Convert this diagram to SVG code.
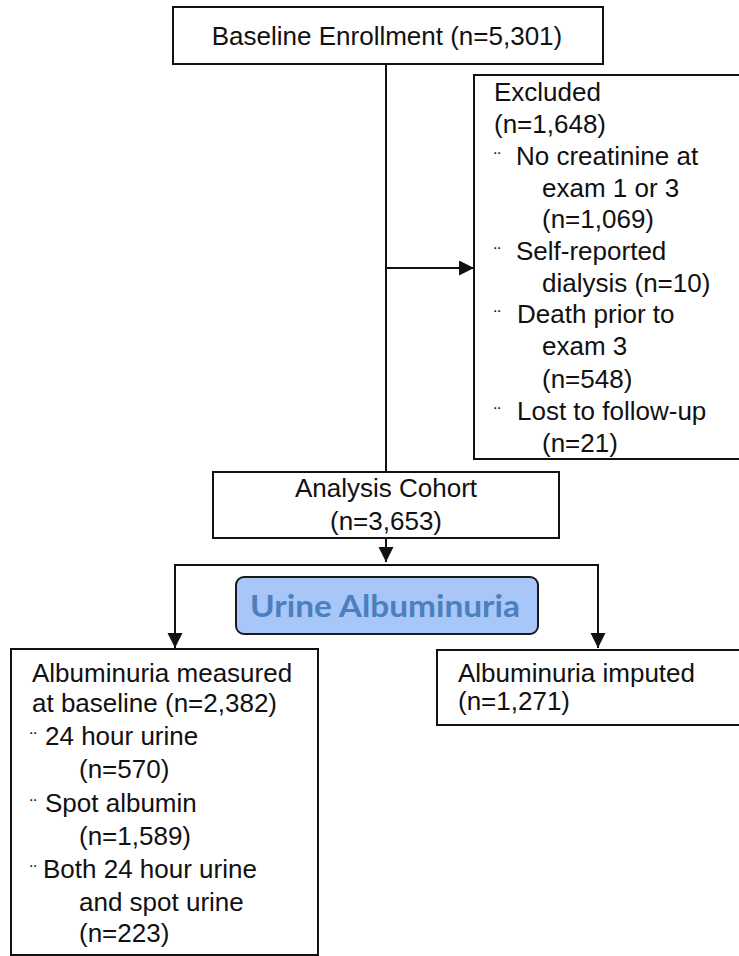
<svg xmlns="http://www.w3.org/2000/svg" width="739" height="956" viewBox="0 0 739 956">
<style>
.box{fill:#fff;stroke:#111;stroke-width:2}
.t{font-family:"Liberation Sans",Arial,sans-serif;font-size:26px;fill:#111}
.c{text-anchor:middle}
.b{font-family:"Liberation Sans",Arial,sans-serif;font-size:20px;fill:#111}
.ln{stroke:#111;stroke-width:2;fill:none}
</style>
<defs>
<marker id="ah" markerWidth="16" markerHeight="16" refX="15" refY="7.5" orient="auto" markerUnits="userSpaceOnUse">
<path d="M0,0 L15,7.5 L0,15 Z" fill="#111"/>
</marker>
</defs>
<rect width="739" height="956" fill="#fff"/>
<g id="connectors">
<line class="ln" x1="386" y1="64" x2="386" y2="562" marker-end="url(#ah)"/>
<line class="ln" x1="386" y1="268" x2="474" y2="268" marker-end="url(#ah)"/>
<polyline class="ln" points="175,647 175,565 598,565 598,647"/>
<line class="ln" x1="175" y1="600" x2="175" y2="648" marker-end="url(#ah)"/>
<line class="ln" x1="598" y1="600" x2="598" y2="648" marker-end="url(#ah)"/>
</g>
<g id="baseline">
<rect class="box" x="173" y="7" width="430" height="57"/>
<text class="t c" x="387" y="45">Baseline Enrollment (n=5,301)</text>
</g>
<g id="excluded">
<rect class="box" x="474" y="75" width="270" height="384"/>
<text class="t" x="494" y="101">Excluded</text>
<text class="t" x="494" y="133">(n=1,648)</text>
<text class="b" x="494" y="166">¨</text>
<text class="t" x="516" y="165">No creatinine at</text>
<text class="t" x="542" y="197">exam 1 or 3</text>
<text class="t" x="542" y="228">(n=1,069)</text>
<text class="b" x="494" y="261">¨</text>
<text class="t" x="516" y="260">Self-reported</text>
<text class="t" x="542" y="292">dialysis (n=10)</text>
<text class="b" x="494" y="324">¨</text>
<text class="t" x="517" y="323">Death prior to</text>
<text class="t" x="542" y="355">exam 3</text>
<text class="t" x="542" y="388">(n=548)</text>
<text class="b" x="494" y="421">¨</text>
<text class="t" x="517" y="420">Lost to follow-up</text>
<text class="t" x="542" y="452">(n=21)</text>
</g>
<g id="cohort">
<rect class="box" x="213" y="472" width="346" height="66"/>
<text class="t c" x="386" y="497">Analysis Cohort</text>
<text class="t c" x="386" y="530">(n=3,653)</text>
</g>
<g id="urine">
<rect x="236" y="577" width="302" height="57" rx="8" fill="#a8c6f7" stroke="#1a1a1a" stroke-width="2"/>
<text x="385" y="617" text-anchor="middle" font-family="Lato,'Open Sans','Liberation Sans',sans-serif" font-weight="bold" font-size="30" fill="#4b7fbd" textLength="270" lengthAdjust="spacingAndGlyphs">Urine Albuminuria</text>
</g>
<g id="measured">
<rect class="box" x="11" y="649" width="307" height="306"/>
<text class="t" x="32" y="682">Albuminuria measured</text>
<text class="t" x="32" y="712">at baseline (n=2,382)</text>
<text class="b" x="30" y="746">¨</text>
<text class="t" x="45" y="745">24 hour urine</text>
<text class="t" x="79" y="778">(n=570)</text>
<text class="b" x="30" y="813">¨</text>
<text class="t" x="45" y="812">Spot albumin</text>
<text class="t" x="79" y="845">(n=1,589)</text>
<text class="b" x="30" y="879">¨</text>
<text class="t" x="43" y="878">Both 24 hour urine</text>
<text class="t" x="79" y="911">and spot urine</text>
<text class="t" x="79" y="942">(n=223)</text>
</g>
<g id="imputed">
<rect class="box" x="437" y="650" width="310" height="75"/>
<text class="t" x="458" y="682">Albuminuria imputed</text>
<text class="t" x="458" y="710">(n=1,271)</text>
</g>
</svg>
